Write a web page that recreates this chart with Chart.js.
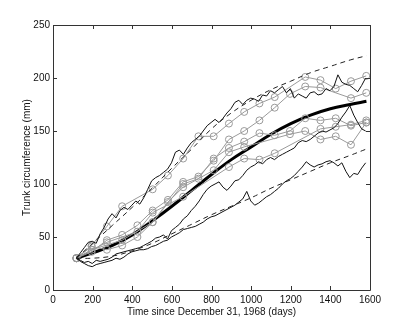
<!DOCTYPE html>
<html>
<head>
<meta charset="utf-8">
<script src="https://cdn.jsdelivr.net/npm/chart.js@4.4.0/dist/chart.umd.min.js"></script>
<style>
  html, body { margin: 0; padding: 0; background: #fff; }
  canvas { display: block; }
  #status { position: absolute; left: 0; top: 0; font-size: 1px; color: #fff; }
</style>
</head>
<body>
<canvas id="treeChart" width="409" height="327"></canvas>
<div id="status"></div>
<script>
// observation times of the trees (days)
const obsDays = [118, 195, 272, 349, 426, 503, 580, 657, 734, 811, 888, 965, 1042, 1119, 1196, 1273, 1350, 1427, 1504, 1581];

// measured circumference per tree (null = not measured)
const treeA = [30, 42, 60, 79, null, 95, 108, 124, 145, 145, 157, 168, 176, 182, null, 201, 198, 190, 197, 202];
const treeB = [30, 36, 47, 52, 61, 75, 85, 102, 107, 122, 142, 150, 160, 172, 185, 192, 191, null, 181, 186];
const treeC = [30, 41, 38, 42, 50, 64, 83, 97, null, 113, 130, 135, null, null, 147, 150, 142, 145, 137, 158];
const treeD = [30, null, 45, null, 55, 73, null, 88, null, null, 116, 124, 123, 129, null, null, 152, 154, 156, 160];
const treeE = [30, 38, null, 47, null, 64, null, 100, 105, 124, 134, 140, 148, 146, 150, 162, 160, 162, 155, 158];

// mean curve and dashed quantile curves
const curveDays = [118, 200, 300, 400, 500, 600, 700, 800, 900, 1000, 1100, 1200, 1300, 1400, 1500, 1582];
const meanCurve = [30, 35, 42, 52, 65, 79, 94, 109, 123, 135, 147, 157, 165, 171, 175, 178];
const upperCurve = [30, 44, 61, 78, 96, 115, 133, 152, 167, 179, 189, 197, 205, 211, 217, 221];
const lowerCurve = [30, 30, 32, 37, 44, 53, 62, 71, 79, 87, 96, 104, 112, 120, 127, 133];

// simulated paths
const pathDays = [118, 138, 158, 178, 198, 218, 238, 258, 278, 298, 318, 338, 358, 378, 398, 418, 438, 458, 478, 498,
  518, 538, 558, 578, 598, 618, 638, 658, 678, 698, 718, 738, 758, 778, 798, 818, 838, 858, 878, 898,
  918, 938, 958, 978, 998, 1018, 1038, 1058, 1078, 1098, 1118, 1138, 1158, 1178, 1198, 1218, 1238, 1258, 1278, 1298,
  1318, 1338, 1358, 1378, 1398, 1418, 1438, 1458, 1478, 1498, 1518, 1538, 1558, 1578];
const pathTop = [30, 35, 40, 45, 46, 44, 53, 59, 67, 72, 68, 75, 78, 76, 80, 84, 81, 87, 95, 103,
  106, 108, 111, 114, 120, 130, 132, 128, 134, 139, 142, 145, 150, 155, 158, 161, 158, 162, 167, 171,
  177, 179, 175, 179, 181, 180, 178, 184, 183, 188, 186, 189, 192, 186, 190, 181, 185, 183, 181, 186,
  187, 184, 185, 190, 188, 192, 203, 196, 194, 193, 190, 187, 193, 200];
const pathMid = [30, 28, 26, 27, 25, 28, 27, 28, 29, 31, 34, 35, 36, 37, 38, 39, 40, 42, 44, 46,
  49, 50, 52, 48, 56, 59, 62, 67, 70, 75, 79, 84, 90, 95, 98, 100, 102, 97, 94, 98,
  103, 104, 108, 113, 116, 118, 121, 119, 123, 125, 123, 126, 128, 130, 132, 134, 139, 141, 140, 142,
  145, 148, 150, 149, 151, 153, 157, 163, 168, 174, 165, 158, 152, 150];
const pathLow = [30, 27, 25, 23, 22, 24, 25, 26, 27, 28, 30, 29, 31, 34, 36, 37, 38, 38, 39, 41,
  42, 44, 46, 47, 50, 52, 54, 57, 58, 59, 60, 62, 64, 67, 69, 70, 72, 74, 76, 78,
  80, 83, 86, 93, 84, 80, 82, 85, 88, 90, 93, 96, 100, 103, 105, 108, 112, 116, 121, 118,
  116, 118, 119, 121, 122, 120, 117, 120, 112, 106, 110, 109, 115, 120];

const xTicks = [0, 200, 400, 600, 800, 1000, 1200, 1400, 1600];
const yTicks = [0, 50, 100, 150, 200, 250];

const pts = (xs, ys) => xs.map((x, i) => ({ x: x, y: ys[i] }));

const FONT = '"Liberation Sans", Arial, Helvetica, sans-serif';

const pathStyle = { borderColor: '#111', borderWidth: 1, pointRadius: 0, tension: 0 };
const treeStyle = {
    borderColor: '#9a9a9a', borderWidth: 1, pointRadius: 3.5, pointBorderColor: '#9a9a9a',
    pointBackgroundColor: 'rgba(0,0,0,0)', pointBorderWidth: 1, tension: 0, spanGaps: true
};
const dashStyle = { borderColor: '#222', borderWidth: 1, borderDash: [5, 4], pointRadius: 0, tension: 0.4 };

const status = document.getElementById('status');

// box + inward tick marks on all four sides
const boxTicks = {
    id: 'boxTicks',
    afterDraw(chart) {
        try {
            const ctx = chart.ctx;
            const a = chart.chartArea;
            const sx = chart.scales.x, sy = chart.scales.y;
            ctx.save();
            ctx.setLineDash([]);
            ctx.strokeStyle = '#333';
            ctx.lineWidth = 1;
            ctx.beginPath();
            ctx.rect(Math.round(a.left) + 0.5, Math.round(a.top) + 0.5,
                     Math.round(a.right - a.left), Math.round(a.bottom - a.top));
            xTicks.forEach(v => {
                const px = Math.round(sx.getPixelForValue(v)) + 0.5;
                ctx.moveTo(px, a.bottom); ctx.lineTo(px, a.bottom - 4);
                ctx.moveTo(px, a.top); ctx.lineTo(px, a.top + 4);
            });
            yTicks.forEach(v => {
                const py = Math.round(sy.getPixelForValue(v)) + 0.5;
                ctx.moveTo(a.left, py); ctx.lineTo(a.left + 4, py);
                ctx.moveTo(a.right, py); ctx.lineTo(a.right - 4, py);
            });
            ctx.stroke();
            ctx.restore();
            status.textContent += '.';
        } catch (e) {
            status.textContent += 'x';
        }
    }
};

const chart = new Chart(document.getElementById('treeChart'), {
    type: 'line',
    data: {
        datasets: [
            { ...dashStyle, data: pts(curveDays, upperCurve) },
            { ...dashStyle, data: pts(curveDays, lowerCurve) },
            { ...pathStyle, data: pts(pathDays, pathTop) },
            { ...pathStyle, data: pts(pathDays, pathMid) },
            { ...pathStyle, data: pts(pathDays, pathLow) },
            { ...treeStyle, data: pts(obsDays, treeA) },
            { ...treeStyle, data: pts(obsDays, treeB) },
            { ...treeStyle, data: pts(obsDays, treeC) },
            { ...treeStyle, data: pts(obsDays, treeD) },
            { ...treeStyle, data: pts(obsDays, treeE) },
            { data: pts(curveDays, meanCurve), borderColor: '#000', borderWidth: 3, pointRadius: 0, tension: 0.4 }
        ]
    },
    options: {
        responsive: false,
        animation: false,
        layout: { padding: { top: 25, right: 39, left: 0, bottom: 0 } },
        plugins: { legend: { display: false }, tooltip: { enabled: false } },
        scales: {
            x: {
                type: 'linear', min: 0, max: 1600,
                afterFit: s => { s.height = 37; },
                afterBuildTicks: s => { s.ticks = xTicks.map(v => ({ value: v })); },
                grid: { display: false, drawTicks: false, tickLength: 0 },
                border: { display: false },
                ticks: { color: '#111', padding: 4, maxRotation: 0, callback: v => String(v), font: { family: FONT, size: 10 } },
                title: {
                    display: true, text: 'Time since December 31, 1968 (days)', color: '#111',
                    padding: { top: 0, bottom: 9 }, font: { family: FONT, size: 10 }
                }
            },
            y: {
                min: 0, max: 250,
                afterFit: s => { s.width = 53; },
                afterBuildTicks: s => { s.ticks = yTicks.map(v => ({ value: v })); },
                grid: { display: false, drawTicks: false, tickLength: 0 },
                border: { display: false },
                ticks: { color: '#111', padding: 3, callback: v => String(v), font: { family: FONT, size: 10 } },
                title: {
                    display: true, text: 'Trunk circumference (mm)', color: '#111',
                    padding: { top: 21, bottom: 0 }, font: { family: FONT, size: 10 }
                }
            }
        }
    },
    plugins: [boxTicks]
});

// redraw once more after load so the frame is surely on the final frame
window.addEventListener('load', () => { chart.draw(); });
setTimeout(() => { chart.draw(); }, 100);
</script>
</body>
</html>
